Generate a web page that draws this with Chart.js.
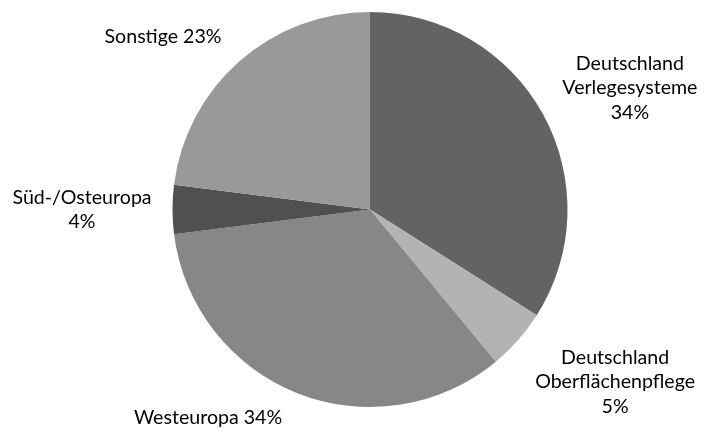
<!DOCTYPE html>
<html>
<head>
<meta charset="utf-8">
<script src="https://cdn.jsdelivr.net/npm/chart.js@4/dist/chart.umd.min.js"></script>
<style>
  html, body { margin: 0; padding: 0; background: #fff; }
  #wrap { width: 708px; height: 429px; }
</style>
</head>
<body>
<div id="wrap"><canvas id="pieChart" width="708" height="429"></canvas></div>
<script>
// data
const categories = [
    ['Deutschland', 'Verlegesysteme'],
    ['Deutschland', 'Oberflächenpflege'],
    ['Westeuropa'],
    ['Süd-/Osteuropa'],
    ['Sonstige']
];
const shares = [34, 5, 34, 4, 23];
const sliceColors = ['#636363', '#b3b3b3', '#878787', '#505050', '#999999'];

// where each label block sits, relative to the pie centre in radius units
const labelSpots = [
    [1.316, -0.615],
    [1.241, 0.873],
    [-0.82, 1.056],
    [-1.458, 0],
    [-1.048, -0.873]
];
// label with percent on its own line or on the same line
const percentOwnLine = [true, true, false, true, false];

const outsideLabels = {
    id: 'outsideLabels',
    afterDraw(chart) {
        const ctx = chart.ctx;
        const arcs = chart.getDatasetMeta(0).data;
        ctx.save();
        ctx.font = '19.6px Lato';
        ctx.fillStyle = '#000';
        ctx.textAlign = 'center';
        ctx.textBaseline = 'middle';
        const lineH = 24.5;
        arcs.forEach((arc, i) => {
            const r = arc.outerRadius;
            const cx = arc.x + labelSpots[i][0] * r;
            const cy = arc.y + labelSpots[i][1] * r;
            let lines = categories[i].slice();
            const pct = shares[i] + '%';
            if (percentOwnLine[i]) {
                lines.push(pct);
            } else {
                lines[lines.length - 1] += ' ' + pct;
            }
            const top = cy - (lines.length - 1) * lineH / 2;
            lines.forEach((t, k) => ctx.fillText(t, cx, top + k * lineH));
        });
        ctx.restore();
    }
};

new Chart(document.getElementById('pieChart'), {
    type: 'pie',
    data: {
        labels: categories.map(c => c.join(' ')),
        datasets: [{
            data: shares,
            backgroundColor: sliceColors,
            borderWidth: 0
        }]
    },
    options: {
        responsive: false,
        animation: false,
        layout: {
            padding: { left: 172, right: 140, top: 12, bottom: 22 }
        },
        plugins: {
            legend: { display: false },
            tooltip: { enabled: false }
        }
    },
    plugins: [outsideLabels]
});
</script>
</body>
</html>
